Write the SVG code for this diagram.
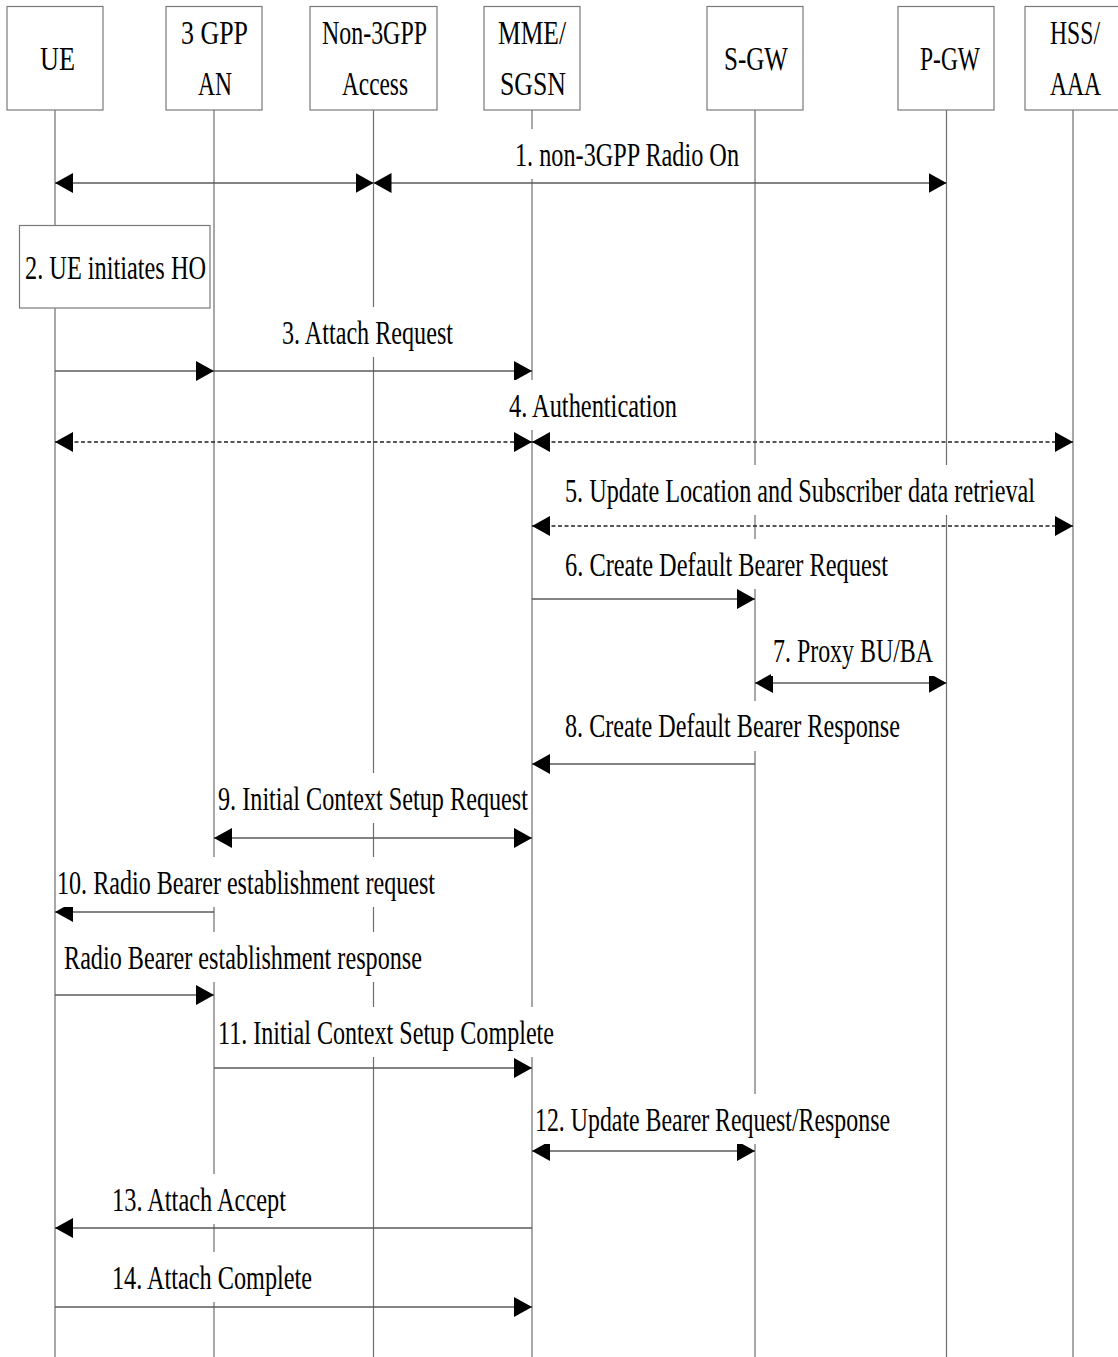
<svg xmlns="http://www.w3.org/2000/svg" width="1118" height="1357" viewBox="0 0 1118 1357">
  <style>
    .box { fill: #ffffff; stroke: #7a7a7a; stroke-width: 1.2; }
    .life { stroke: #6e6e6e; stroke-width: 1.2; fill: none; }
    .msg { stroke: #5a5a5a; stroke-width: 1.4; fill: none; }
    .dash { stroke: #222222; stroke-width: 1.4; stroke-dasharray: 4 2.5; fill: none; }
    .hd { font-family: "Liberation Serif", "Times New Roman", serif; font-size: 34px; fill: #000; }
    .lb { font-family: "Liberation Serif", "Times New Roman", serif; font-size: 34px; fill: #000; }
    .bg { fill: #ffffff; stroke: none; }
  </style>
  <defs>
    <marker id="ah" markerUnits="userSpaceOnUse" markerWidth="18" markerHeight="20" refX="18" refY="10" orient="auto-start-reverse">
      <path d="M0,0 L18,10 L0,20 Z" fill="#000"/>
    </marker>
  </defs>

  <rect width="1118" height="1357" fill="#ffffff"/>

  <!-- lifelines -->
  <g id="lifelines">
    <line class="life" x1="55" y1="110" x2="55" y2="1357"/>
    <line class="life" x1="214" y1="110" x2="214" y2="1357"/>
    <line class="life" x1="373.5" y1="110" x2="373.5" y2="1357"/>
    <line class="life" x1="532" y1="110" x2="532" y2="1357"/>
    <line class="life" x1="755" y1="110" x2="755" y2="1357"/>
    <line class="life" x1="946.5" y1="110" x2="946.5" y2="1357"/>
    <line class="life" x1="1073" y1="110" x2="1073" y2="1357"/>
  </g>

  <!-- participants -->
  <g id="ue">
    <rect class="box" x="7" y="6.5" width="96" height="103.5"/>
    <text class="hd" x="40" y="70" textLength="35" lengthAdjust="spacingAndGlyphs">UE</text>
  </g>
  <g id="gpp-an">
    <rect class="box" x="166" y="6.5" width="96" height="103.5"/>
    <text class="hd" x="181" y="44" textLength="67" lengthAdjust="spacingAndGlyphs">3 GPP</text>
    <text class="hd" x="198" y="95" textLength="34" lengthAdjust="spacingAndGlyphs">AN</text>
  </g>
  <g id="non3gpp-access">
    <rect class="box" x="310" y="6.5" width="127" height="103.5"/>
    <text class="hd" x="322" y="44" textLength="105" lengthAdjust="spacingAndGlyphs">Non-3GPP</text>
    <text class="hd" x="342" y="95" textLength="66" lengthAdjust="spacingAndGlyphs">Access</text>
  </g>
  <g id="mme-sgsn">
    <rect class="box" x="484" y="6.5" width="96" height="103.5"/>
    <text class="hd" x="498" y="44" textLength="68" lengthAdjust="spacingAndGlyphs">MME/</text>
    <text class="hd" x="500" y="95" textLength="66" lengthAdjust="spacingAndGlyphs">SGSN</text>
  </g>
  <g id="s-gw">
    <rect class="box" x="707" y="6.5" width="96" height="103.5"/>
    <text class="hd" x="724" y="70" textLength="64" lengthAdjust="spacingAndGlyphs">S-GW</text>
  </g>
  <g id="p-gw">
    <rect class="box" x="898" y="6.5" width="96" height="103.5"/>
    <text class="hd" x="920" y="70" textLength="60" lengthAdjust="spacingAndGlyphs">P-GW</text>
  </g>
  <g id="hss-aaa">
    <rect class="box" x="1025" y="6.5" width="96" height="103.5"/>
    <text class="hd" x="1050" y="44" textLength="50" lengthAdjust="spacingAndGlyphs">HSS/</text>
    <text class="hd" x="1050" y="95" textLength="51" lengthAdjust="spacingAndGlyphs">AAA</text>
  </g>

  <!-- local action on the UE -->
  <g id="ue-initiates-ho">
    <rect class="box" x="19.5" y="225.5" width="190.5" height="82.5"/>
    <text class="lb" x="25" y="279" textLength="181" lengthAdjust="spacingAndGlyphs">2. UE initiates HO</text>
  </g>

  <!-- message connectors -->
  <g id="connectors">
    <line class="msg" x1="55" y1="183" x2="373.5" y2="183" marker-start="url(#ah)" marker-end="url(#ah)"/>
    <line class="msg" x1="373.5" y1="183" x2="946.5" y2="183" marker-start="url(#ah)" marker-end="url(#ah)"/>
    <line class="msg" x1="55" y1="371" x2="214" y2="371" marker-end="url(#ah)"/>
    <line class="msg" x1="214" y1="371" x2="532" y2="371" marker-end="url(#ah)"/>
    <line class="dash" x1="55" y1="442" x2="532" y2="442" marker-start="url(#ah)" marker-end="url(#ah)"/>
    <line class="dash" x1="532" y1="442" x2="1073" y2="442" marker-start="url(#ah)" marker-end="url(#ah)"/>
    <line class="dash" x1="532" y1="526" x2="1073" y2="526" marker-start="url(#ah)" marker-end="url(#ah)"/>
    <line class="msg" x1="532" y1="599" x2="755" y2="599" marker-end="url(#ah)"/>
    <line class="msg" x1="755" y1="683" x2="946.5" y2="683" marker-start="url(#ah)" marker-end="url(#ah)"/>
    <line class="msg" x1="755" y1="764" x2="532" y2="764" marker-end="url(#ah)"/>
    <line class="msg" x1="214" y1="838" x2="532" y2="838" marker-start="url(#ah)" marker-end="url(#ah)"/>
    <line class="msg" x1="214" y1="912" x2="55" y2="912" marker-end="url(#ah)"/>
    <line class="msg" x1="55" y1="995" x2="214" y2="995" marker-end="url(#ah)"/>
    <line class="msg" x1="214" y1="1068" x2="532" y2="1068" marker-end="url(#ah)"/>
    <line class="msg" x1="532" y1="1151" x2="755" y2="1151" marker-start="url(#ah)" marker-end="url(#ah)"/>
    <line class="msg" x1="532" y1="1228" x2="55" y2="1228" marker-end="url(#ah)"/>
    <line class="msg" x1="55" y1="1307" x2="532" y2="1307" marker-end="url(#ah)"/>
  </g>

  <!-- message labels, each on a white backing that breaks the lifelines -->
  <g id="labels">
    <rect class="bg" x="513" y="129" width="228" height="50"/>
    <text class="lb" x="515" y="166" textLength="224" lengthAdjust="spacingAndGlyphs">1. non-3GPP Radio On</text>

    <rect class="bg" x="280" y="307" width="175" height="50"/>
    <text class="lb" x="282" y="344" textLength="171" lengthAdjust="spacingAndGlyphs">3. Attach Request</text>

    <rect class="bg" x="507" y="380" width="172" height="50"/>
    <text class="lb" x="509" y="417" textLength="168" lengthAdjust="spacingAndGlyphs">4. Authentication</text>

    <rect class="bg" x="563" y="465" width="474" height="50"/>
    <text class="lb" x="565" y="502" textLength="470" lengthAdjust="spacingAndGlyphs">5. Update Location and Subscriber data retrieval</text>

    <rect class="bg" x="563" y="539" width="327" height="50"/>
    <text class="lb" x="565" y="576" textLength="323" lengthAdjust="spacingAndGlyphs">6. Create Default Bearer Request</text>

    <rect class="bg" x="771" y="626" width="164" height="50"/>
    <text class="lb" x="773" y="662" textLength="160" lengthAdjust="spacingAndGlyphs">7. Proxy BU/BA</text>

    <rect class="bg" x="563" y="701" width="339" height="50"/>
    <text class="lb" x="565" y="737" textLength="335" lengthAdjust="spacingAndGlyphs">8. Create Default Bearer Response</text>

    <rect class="bg" x="216" y="773" width="314" height="50"/>
    <text class="lb" x="218" y="810" textLength="310" lengthAdjust="spacingAndGlyphs">9. Initial Context Setup Request</text>

    <rect class="bg" x="57" y="857" width="380" height="50"/>
    <text class="lb" x="57" y="894" textLength="378" lengthAdjust="spacingAndGlyphs">10. Radio Bearer establishment request</text>

    <rect class="bg" x="62" y="932" width="362" height="50"/>
    <text class="lb" x="64" y="969" textLength="358" lengthAdjust="spacingAndGlyphs">Radio Bearer establishment response</text>

    <rect class="bg" x="216" y="1007" width="340" height="50"/>
    <text class="lb" x="218" y="1044" textLength="336" lengthAdjust="spacingAndGlyphs">11. Initial Context Setup Complete</text>

    <rect class="bg" x="534" y="1094" width="358" height="50"/>
    <text class="lb" x="535" y="1131" textLength="355" lengthAdjust="spacingAndGlyphs">12. Update Bearer Request/Response</text>

    <rect class="bg" x="110" y="1174" width="178" height="50"/>
    <text class="lb" x="112" y="1211" textLength="174" lengthAdjust="spacingAndGlyphs">13. Attach Accept</text>

    <rect class="bg" x="110" y="1252" width="204" height="50"/>
    <text class="lb" x="112" y="1289" textLength="200" lengthAdjust="spacingAndGlyphs">14. Attach Complete</text>
  </g>
</svg>
